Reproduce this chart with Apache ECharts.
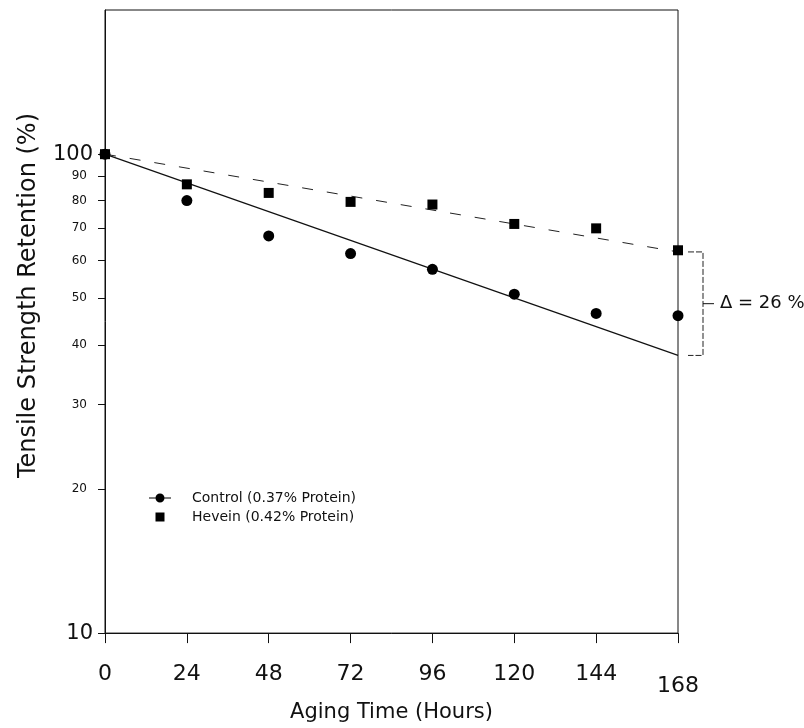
<!DOCTYPE html>
<html>
<head>
<meta charset="utf-8">
<script src="https://cdn.jsdelivr.net/npm/echarts@6/dist/echarts.min.js"></script>
<style>
  html, body { margin: 0; padding: 0; background: #fff; }
  #grafico { width: 804px; height: 728px; }
</style>
</head>
<body>
<div id="grafico"></div>
<script>
// datos
var horas = [0, 24, 48, 72, 96, 120, 144, 168];
var control = [100, 80, 67.5, 62, 57.5, 51, 46.5, 46];
var hevein = [100, 86.5, 83, 79.5, 78.5, 71.5, 70, 63];

var horas_ajuste = [0, 168];
var ajuste_control = [100, 38];
var ajuste_hevein = [100, 62.5];

var ticks_x = [0, 24, 48, 72, 96, 120, 144, 168];
var ticks_y = [10, 20, 30, 40, 50, 60, 70, 80, 90, 100];
var texto_delta = 'Δ = 26 %';

var nombre_control = 'Control (0.37% Protein)';
var nombre_hevein = 'Hevein (0.42% Protein)';

var fuente = 'DejaVu Sans';

function pares(xs, ys) {
    var out = [];
    for (var i = 0; i < xs.length; i++) {
        out.push([xs[i], ys[i]]);
    }
    return out;
}

var myChart01 = echarts.init(document.getElementById('grafico'));

var option = {
    animation: false,
    backgroundColor: '#fff',
    grid: {
        left: 105, right: 126, top: 10, bottom: 93,
        show: true, borderColor: '#111', borderWidth: 1
    },
    legend: {
        orient: 'vertical',
        left: 144, top: 486,
        itemWidth: 22, itemHeight: 10, itemGap: 5,
        itemStyle: { opacity: 1 },
        textStyle: { fontFamily: fuente, fontSize: 14, color: '#111', padding: [0, 0, 0, 16] },
        data: [
            { name: nombre_control, icon: 'path://M0,4.5H22V5.5H0Z M15.5,5A4.5,4.5 0 1 1 6.5,5A4.5,4.5 0 1 1 15.5,5Z' },
            { name: nombre_hevein, icon: 'path://M0,5L0,5M22,5L22,5M6.5,0.5H15.5V9.5H6.5Z' }
        ]
    },
    xAxis: {
        type: 'value',
        min: 0, max: 168, interval: 24,
        name: 'Aging Time (Hours)',
        nameLocation: 'middle', nameGap: 58,
        nameTextStyle: { fontFamily: fuente, fontSize: 21, color: '#111' },
        axisLine: { lineStyle: { color: '#111', width: 1 } },
        axisTick: { show: true, length: 10, lineStyle: { color: '#111' } },
        splitLine: { show: false },
        axisLabel: {
            margin: 30,
            formatter: function (v) {
                return v === 168 ? '{bajo|' + v + '}' : '{n|' + v + '}';
            },
            rich: {
                n: { fontFamily: fuente, fontSize: 22, color: '#111' },
                bajo: { fontFamily: fuente, fontSize: 22, color: '#111', padding: [12, 0, 0, 0] }
            }
        },
        data: ticks_x
    },
    yAxis: {
        type: 'log',
        logBase: 10,
        min: 10, max: 200,
        name: 'Tensile Strength Retention (%)',
        nameLocation: 'middle', nameGap: 64,
        nameTextStyle: { fontFamily: fuente, fontSize: 24, color: '#111', padding: [0, 0, 0, 52] },
        axisLine: { show: true, lineStyle: { color: '#111', width: 1 } },
        axisTick: { show: true, length: 7, customValues: ticks_y, lineStyle: { color: '#111' } },
        splitLine: { show: false },
        minorTick: { show: false },
        axisLabel: {
            margin: 12,
            customValues: ticks_y,
            formatter: function (v) {
                return (v === 10 || v === 100) ? '{g|' + v + '}' : '{p|' + v + '}';
            },
            rich: {
                g: { fontFamily: fuente, fontSize: 21, color: '#111' },
                p: { fontFamily: fuente, fontSize: 12, color: '#111', padding: [0, 6, 0, 0] }
            }
        }
    },
    series: [
        {
            name: 'ajuste control',
            type: 'line',
            data: pares(horas_ajuste, ajuste_control),
            symbol: 'none',
            lineStyle: { color: '#111', width: 1.2 },
            silent: true, z: 1
        },
        {
            name: 'ajuste hevein',
            type: 'line',
            data: pares(horas_ajuste, ajuste_hevein),
            symbol: 'none',
            lineStyle: { color: '#222', width: 1, type: [11, 14] },
            silent: true, z: 1
        },
        {
            name: nombre_control,
            type: 'scatter',
            data: pares(horas, control),
            symbol: 'circle', symbolSize: 11,
            itemStyle: { color: '#000', opacity: 1 },
            z: 3
        },
        {
            name: nombre_hevein,
            type: 'scatter',
            data: pares(horas, hevein),
            symbol: 'rect', symbolSize: 10,
            itemStyle: { color: '#000', opacity: 1 },
            z: 3
        }
    ]
};

myChart01.setOption(option, true);

// corchete de la diferencia entre ajustes al final (168 h)
var p_alto = myChart01.convertToPixel({ gridIndex: 0 }, [horas_ajuste[1], ajuste_hevein[1]]);
var p_bajo = myChart01.convertToPixel({ gridIndex: 0 }, [horas_ajuste[1], ajuste_control[1]]);
var xb = p_alto[0] + 25;
var ym = (p_alto[1] + p_bajo[1]) / 2;

myChart01.setOption({
    graphic: [
        { type: 'polyline', shape: { points: [[p_alto[0] + 10, p_alto[1]], [xb, p_alto[1]], [xb, p_bajo[1]], [p_alto[0] + 10, p_bajo[1]]] },
          style: { stroke: '#222', lineWidth: 1, fill: null, lineDash: [6, 2] } },
        { type: 'line', shape: { x1: xb, y1: ym, x2: xb + 11, y2: ym },
          style: { stroke: '#111', lineWidth: 1 } },
        { type: 'text', x: xb + 17, y: ym,
          style: { text: texto_delta, fontFamily: fuente, fontSize: 18, fill: '#111', verticalAlign: 'middle' } }
    ]
});
</script>
</body>
</html>
